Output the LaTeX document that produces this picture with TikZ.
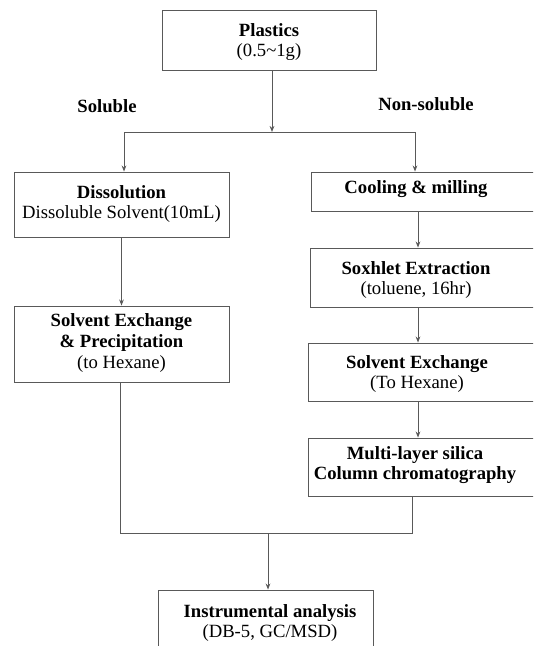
\documentclass[tikz,border=0pt]{standalone}
\usepackage{fontspec}
\setmainfont{Liberation Serif}
\usetikzlibrary{arrows.meta}
\begin{document}
\begin{tikzpicture}[x=0.75pt,y=-0.75pt,
  box/.style={draw=black!65, line width=0.7pt, fill=white, rectangle, inner sep=0pt},
  txt/.style={align=center, font=\rmfamily\fontsize{14}{15.5}\selectfont, inner sep=0pt},
  lbl/.style={font=\rmfamily\fontsize{14}{15.5}\selectfont\bfseries, inner sep=0pt},
  line/.style={draw=black!65, line width=0.7pt},
  arr/.style={line, -{Stealth[length=4.5pt,width=3.5pt]}}]
\fill[white] (0,0) rectangle (533,646);
\useasboundingbox (0,0) rectangle (533,646);
\clip (0,0) rectangle (533,646);

% boxes
\node[box, minimum width=160.5pt, minimum height=45pt] (plastics) at (269,40) {};
\node[txt] at (269,42) {\textbf{Plastics}\\(0.5\char"007E 1g)};
\node[box, minimum width=161.25pt, minimum height=48.75pt] (dis) at (121.5,204.5) {};
\node[txt] at (121.5,204) {\textbf{Dissolution}\\Dissoluble Solvent(10mL)};
\node[box, minimum width=161.25pt, minimum height=57pt] (sep) at (121.5,344) {};
\node[txt] at (121.5,343) {\textbf{Solvent Exchange}\\\textbf{\& Precipitation}\\(to Hexane)};
\node[box, minimum width=168.75pt, minimum height=29.25pt] (cool) at (423.5,191.5) {};
\node[txt] at (416,189) {\textbf{Cooling \& milling}};
\node[box, minimum width=169.5pt, minimum height=44.25pt] (sox) at (423,277.5) {};
\node[txt] at (416,280) {\textbf{Soxhlet Extraction}\\(toluene, 16hr)};
\node[box, minimum width=171pt, minimum height=43.5pt] (solvex) at (422,372) {};
\node[txt] at (417,374) {\textbf{Solvent Exchange}\\(To Hexane)};
\node[box, minimum width=171pt, minimum height=43.5pt] (multi) at (422,467) {};
\node[txt] at (415,465) {\textbf{Multi-layer silica}\\\textbf{Column chromatography}};
\node[box, minimum width=161.25pt, minimum height=45pt] (instr) at (265.5,620) {};
\node[txt] at (270,623) {\textbf{Instrumental analysis}\\(DB-5, GC/MSD)};

% labels
\node[lbl] (sol) at (107,106) {Soluble};
\node[lbl] (nonsol) at (426,104) {Non-soluble};

% connectors
\coordinate (xm) at (272,0);
\coordinate (split) at (272,132);
\coordinate (L) at (124,132);
\coordinate (R) at (415,132);
\coordinate (xr) at (418,0);
\coordinate (jl) at (120,533);
\coordinate (jr) at (412,533);
\coordinate (jm) at (268,533);

\draw[arr] (plastics.south -| xm) -- (split);
\draw[line] (L) -- (R);
\draw[arr] (L) -- (dis.north -| L);
\draw[arr] (R) -- (cool.north -| R);
\draw[arr] (dis.south) -- (sep.north);
\draw[arr] (cool.south -| xr) -- (sox.north -| xr);
\draw[arr] (sox.south -| xr) -- (solvex.north -| xr);
\draw[arr] (solvex.south -| xr) -- (multi.north -| xr);
\draw[line] (sep.south -| jl) -- (jl) -- (jr) -- (multi.south -| jr);
\draw[arr] (jm) -- (instr.north -| jm);
\end{tikzpicture}
\end{document}
